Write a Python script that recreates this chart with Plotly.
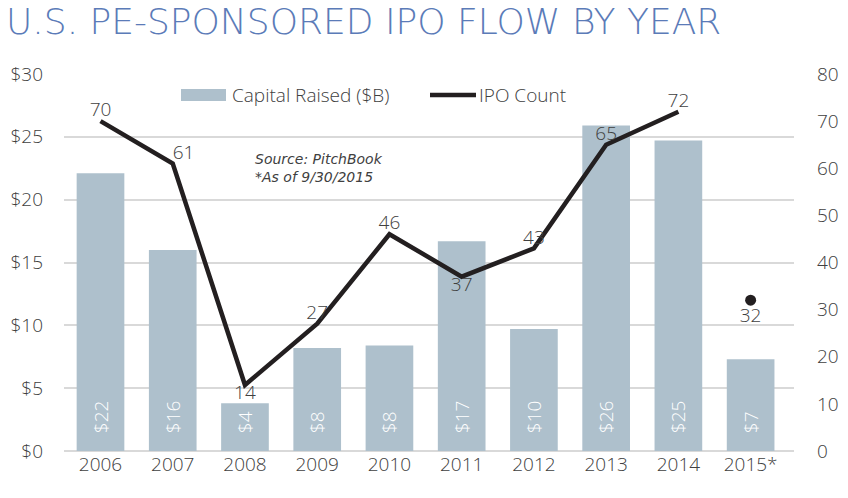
import plotly.graph_objects as go

years = ["2006", "2007", "2008", "2009", "2010", "2011", "2012", "2013", "2014", "2015*"]
capital = [22.1, 16.0, 3.8, 8.2, 8.4, 16.7, 9.7, 25.9, 24.7, 7.3]
capital_labels = ["$22", "$16", "$4", "$8", "$8", "$17", "$10", "$26", "$25", "$7"]
ipo_years = ["2006", "2007", "2008", "2009", "2010", "2011", "2012", "2013", "2014"]
ipo_count = [70, 61, 14, 27, 46, 37, 43, 65, 72]
ipo_pos = ["top center", "top right", "bottom center", "top center", "top center",
           "bottom center", "top center", "top center", "top center"]
partial_year = ["2015*"]
partial_count = [32]

font_main = "Open Sans"
txt = "#404040"
bar_color = "#aec0cc"
line_color = "#231f20"

L, R, T, B = 64, 54, 74, 47
W, H = 848, 498
PW, PH = W - L - R, H - T - B


def px(x):
    return (x - L) / PW


def py(y):
    return (H - B - y) / PH


fig = go.Figure()
fig.add_trace(go.Bar(
    x=years, y=capital, name="Capital Raised ($B)", showlegend=False,
    marker=dict(color=bar_color, line=dict(width=0)),
    text=["\u00a0\u00a0\u00a0" + s for s in capital_labels], textposition="inside", textangle=-90,
    insidetextanchor="start",
    textfont=dict(color="white", size=19, family=font_main, weight=300),
    cliponaxis=False, hoverinfo="skip",
))
fig.add_trace(go.Scatter(
    x=ipo_years, y=ipo_count, name="IPO Count", yaxis="y2", showlegend=False,
    mode="lines+text", line=dict(color=line_color, width=4.5),
    text=[str(v) for v in ipo_count], textposition=ipo_pos,
    textfont=dict(color=txt, size=19, family=font_main, weight=300),
    cliponaxis=False, hoverinfo="skip",
))
fig.add_trace(go.Scatter(
    x=partial_year, y=partial_count, yaxis="y2", showlegend=False,
    mode="markers+text", marker=dict(color=line_color, size=11),
    text=[str(v) for v in partial_count], textposition="bottom center",
    textfont=dict(color=txt, size=19, family=font_main, weight=300),
    cliponaxis=False, hoverinfo="skip",
))

legend_font = dict(size=19, color=txt, family=font_main, weight=300)

fig.update_layout(
    width=W, height=H,
    margin=dict(l=L, r=R, t=T, b=B),
    paper_bgcolor="white", plot_bgcolor="white",
    bargap=0.34,
    showlegend=False,
    xaxis=dict(tickfont=dict(size=19, color=txt, family=font_main, weight=300),
               showgrid=False, showline=False, ticks="", automargin=False),
    yaxis=dict(range=[0, 30], dtick=5, tickprefix="$",
               tickfont=dict(size=19, color=txt, family=font_main, weight=300),
               showgrid=True, gridcolor="#d9d9d9", gridwidth=1.5,
               zeroline=True, zerolinecolor="#d9d9d9", zerolinewidth=1.5, ticks="",
               ticklabelstandoff=20, automargin=False),
    yaxis2=dict(range=[0, 80], dtick=10, overlaying="y", side="right",
                tickfont=dict(size=19, color=txt, family=font_main, weight=300),
                showgrid=False, zeroline=False, ticks="", ticklabelstandoff=22,
                automargin=False),
    shapes=[
        dict(type="rect", xref="paper", yref="paper",
             x0=px(181), x1=px(226), y0=py(101), y1=py(89),
             fillcolor=bar_color, line=dict(width=0)),
        dict(type="line", xref="paper", yref="paper",
             x0=px(430), x1=px(476), y0=py(95), y1=py(95),
             line=dict(color=line_color, width=4.5)),
    ],
    annotations=[
        dict(text="U.S. PE-SPONSORED IPO FLOW BY YEAR", xref="paper", yref="paper",
             x=px(4), y=py(21), xanchor="left", yanchor="middle", showarrow=False,
             font=dict(size=36, color="#5b7bb8", family="DejaVu Sans", weight=200)),
        dict(text="Capital Raised ($B)", xref="paper", yref="paper",
             x=px(230), y=py(95), xanchor="left", yanchor="middle", showarrow=False,
             font=legend_font),
        dict(text="IPO Count", xref="paper", yref="paper",
             x=px(477), y=py(95), xanchor="left", yanchor="middle", showarrow=False,
             font=legend_font),
        dict(text="<i>Source: PitchBook<br>*As of 9/30/2015</i>", xref="paper", yref="paper",
             x=px(253), y=py(168), xanchor="left", yanchor="middle",
             showarrow=False, align="left",
             font=dict(size=14, color="#404040", family="DejaVu Sans", weight=200)),
    ],
)

fig.write_html("out.html", config={"displayModeBar": False},
               post_script="document.body.style.margin='0';")
